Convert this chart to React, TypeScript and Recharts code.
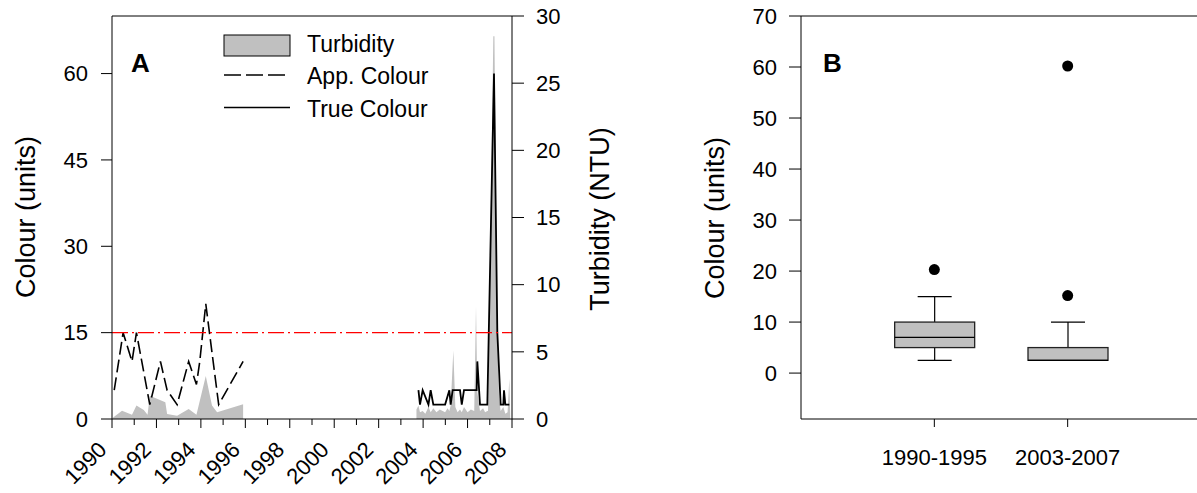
import React from "react";
import {
  ComposedChart,
  Area,
  Line,
  Bar,
  Scatter,
  XAxis,
  YAxis,
  ReferenceLine,
} from "recharts";

const FONT = "'Liberation Sans', Arial, sans-serif";
const GREY = "#c0c0c0";

// Panel A, 1990-1995 samples (apparent colour + turbidity)
const earlyYears = [
  1990.05, 1990.1, 1990.45, 1990.5, 1990.9, 1991.1, 1991.43, 1991.6, 1991.7,
  1992.18, 1992.4, 1992.48, 1992.93, 1993.45, 1993.8, 1993.95, 1994.22,
  1994.5, 1994.73, 1994.8, 1995.9,
];
const appColour = [
  null, 5, null, 15, 10, 15, null, null, 2.5, 10, null, 5, 2.5, 10, 6, 10, 20,
  null, null, 2.5, 10,
];
const earlyTurbidity = [
  0.12, null, 0.62, null, 0.32, 1.0, 0.67, 0.32, 1.74, null, 1.24, 0.37, 0.25,
  0.74, 0.32, null, 3.2, 1.0, 0.5, null, 1.1,
];

// Panel A, 2003-2007 samples (true colour + turbidity)
const lateYears = [
  2003.7, 2003.79, 2003.86, 2003.98, 2004.1, 2004.24, 2004.34, 2004.46, 2004.6,
  2004.75, 2004.99, 2005.1, 2005.18, 2005.24, 2005.33, 2005.36, 2005.45,
  2005.55, 2005.66, 2005.74, 2005.84, 2006.0, 2006.15, 2006.3, 2006.38,
  2006.41, 2006.44, 2006.56, 2006.7, 2006.79, 2006.89, 2006.92, 2007.16,
  2007.19, 2007.21, 2007.34, 2007.42, 2007.49, 2007.61, 2007.64, 2007.7,
  2007.8, 2007.88, 2007.92,
];
const trueColour = [
  null, 5, 2.5, 5, null, 2.5, 5, 2.5, null, null, 2.5, null, 5, 2.5, 5, null,
  null, null, 5, 2.5, 5, null, null, null, null, 5, 10, 2.5, null, 2.5, 2.5,
  null, null, 60, null, 15, null, 2.5, 2.5, 5, 2.5, null, 2.5, null,
];
const lateTurbidity = [
  0.7, 1.0, 0.5, 0.6, 0.4, 0.9, 0.5, 0.8, 0.5, 0.7, 0.5, 0.8, 0.6, 1.0, null,
  5.1, 0.9, 0.5, 0.7, 0.5, 0.9, 0.5, 0.7, 0.6, 8.4, null, 2.0, 0.6, 0.8, 0.5,
  0.6, 0.6, 28.5, null, 28.5, 6.4, 1.5, 0.6, 0.9, null, 0.4, 0.5, 3.0, 0.2,
];

const yearTicks = [
  1990, 1991, 1992, 1993, 1994, 1995, 1996, 1997, 1998, 1999, 2000, 2001, 2002,
  2003, 2004, 2005, 2006, 2007, 2008,
];
const colourTicks = [0, 15, 30, 45, 60];
const turbidityTicks = [0, 5, 10, 15, 20, 25, 30];
const guideline = 15;

// Panel B, box plot summaries
const periods = ["1990-1995", "2003-2007"];
const boxMin = [2.5, 2.5];
const boxQ1 = [5, 2.5];
const boxMedian = [7, 2.5];
const boxQ3 = [10, 5];
const boxMax = [15, 10];
const outlierPeriod = [1, 2, 2];
const outlierValue = [20.3, 15.2, 60.2];
const boxTicks = [0, 10, 20, 30, 40, 50, 60, 70];

const seriesRows = [
  ...earlyYears.map((year, i) => ({
    year,
    app: appColour[i],
    turbEarly: earlyTurbidity[i],
    tru: null,
    turbLate: null,
  })),
  ...lateYears.map((year, i) => ({
    year,
    app: null,
    turbEarly: null,
    tru: trueColour[i],
    turbLate: lateTurbidity[i],
  })),
];

const boxRows = periods.map((label, i) => ({
  pos: i + 1,
  label,
  min: boxMin[i],
  q1: boxQ1[i],
  median: boxMedian[i],
  q3: boxQ3[i],
  max: boxMax[i],
  range: [boxQ1[i], boxQ3[i]],
}));

const outlierRows = outlierValue.map((value, i) => ({
  pos: outlierPeriod[i],
  value,
}));

const tickText = { fill: "#000", fontSize: 22, fontFamily: FONT };
const black = { stroke: "#000" };

function YearTick({ x, y, payload }: any) {
  const labelled = payload.value % 2 === 0;
  return (
    <g>
      <line x1={x} x2={x} y1={y} y2={y + (labelled ? 9 : 6)} stroke="#000" />
      {labelled && (
        <text
          transform={`translate(${x - 4},${y + 32}) rotate(-45)`}
          textAnchor="end"
          fontSize={22}
          fontFamily={FONT}
          fill="#000"
        >
          {payload.value}
        </text>
      )}
    </g>
  );
}

function BoxShape(props: any) {
  const { x, y, width, height, payload } = props;
  const top = Math.min(y, y + height);
  const h = Math.abs(height);
  const px = h / (payload.q3 - payload.q1);
  const at = (v: number) => top + (payload.q3 - v) * px;
  const cx = x + width / 2;
  const cap = 17;
  return (
    <g>
      <line x1={cx} x2={cx} y1={at(payload.max)} y2={top} stroke="#000" strokeWidth={1.2} />
      <line x1={cx - cap} x2={cx + cap} y1={at(payload.max)} y2={at(payload.max)} stroke="#000" strokeWidth={1.2} />
      <line x1={cx} x2={cx} y1={top + h} y2={at(payload.min)} stroke="#000" strokeWidth={1.2} />
      <line x1={cx - cap} x2={cx + cap} y1={at(payload.min)} y2={at(payload.min)} stroke="#000" strokeWidth={1.2} />
      <rect x={x} y={top} width={width} height={h} fill={GREY} stroke="#222" strokeWidth={1.3} />
      <line x1={x} x2={x + width} y1={at(payload.median)} y2={at(payload.median)} stroke="#000" strokeWidth={1.3} />
    </g>
  );
}

function OutlierDot({ cx, cy }: any) {
  return <circle cx={cx} cy={cy} r={5.5} fill="#000" />;
}

export default function App() {
  return (
    <div
      style={{
        position: "absolute",
        left: 0,
        top: 0,
        width: 1197,
        height: 493,
        overflow: "hidden",
        background: "#fff",
      }}
    >
      <div style={{ position: "absolute", left: 0, top: 0 }}>
        <ComposedChart
          width={640}
          height={493}
          data={seriesRows}
          margin={{ top: 16, right: 28, bottom: 4, left: 32 }}
        >
          <XAxis
            type="number"
            dataKey="year"
            domain={[1990, 2008]}
            ticks={yearTicks}
            interval={0}
            tick={<YearTick />}
            tickLine={false}
            tickSize={0}
            tickMargin={0}
            axisLine={black}
            height={70}
            allowDataOverflow
          />
          <YAxis
            yAxisId="left"
            domain={[0, 70]}
            ticks={colourTicks}
            interval={0}
            width={80}
            tickSize={11}
            tickMargin={13}
            tick={tickText}
            tickLine={black}
            axisLine={black}
          />
          <YAxis
            yAxisId="right"
            orientation="right"
            domain={[0, 30]}
            ticks={turbidityTicks}
            interval={0}
            width={100}
            tickSize={12}
            tickMargin={12}
            tick={tickText}
            tickLine={black}
            axisLine={black}
          />
          <Area
            yAxisId="right"
            type="linear"
            dataKey="turbEarly"
            stroke="none"
            fill={GREY}
            fillOpacity={1}
            connectNulls
            dot={false}
            activeDot={false}
            isAnimationActive={false}
          />
          <Area
            yAxisId="right"
            type="linear"
            dataKey="turbLate"
            stroke="none"
            fill={GREY}
            fillOpacity={1}
            connectNulls
            dot={false}
            activeDot={false}
            isAnimationActive={false}
          />
          <Line
            yAxisId="left"
            type="linear"
            dataKey="app"
            stroke="#000"
            strokeWidth={1.6}
            strokeDasharray="13 5"
            connectNulls
            dot={false}
            activeDot={false}
            isAnimationActive={false}
          />
          <Line
            yAxisId="left"
            type="linear"
            dataKey="tru"
            stroke="#000"
            strokeWidth={1.8}
            connectNulls
            dot={false}
            activeDot={false}
            isAnimationActive={false}
          />
          <ReferenceLine
            yAxisId="left"
            y={guideline}
            stroke="#ff0000"
            strokeWidth={1.2}
            strokeDasharray="16 4 2 4"
          />
          <ReferenceLine yAxisId="left" y={70} stroke="#000" />
        </ComposedChart>
      </div>

      <div style={{ position: "absolute", left: 680, top: 0 }}>
        <ComposedChart
          width={540}
          height={493}
          data={boxRows}
          margin={{ top: 16, right: 19, bottom: 14, left: 41 }}
        >
          <XAxis
            type="number"
            dataKey="pos"
            domain={[0, 3]}
            ticks={[1, 2]}
            interval={0}
            tickFormatter={(v: number) => periods[v - 1]}
            tickSize={8}
            tickMargin={22}
            tick={tickText}
            tickLine={black}
            axisLine={black}
            height={60}
          />
          <YAxis
            domain={[-9, 70]}
            ticks={boxTicks}
            interval={0}
            width={80}
            tickSize={12}
            tickMargin={12}
            tick={tickText}
            tickLine={black}
            axisLine={black}
            allowDataOverflow
          />
          <Bar
            dataKey="range"
            barSize={80}
            shape={<BoxShape />}
            isAnimationActive={false}
          />
          <Scatter
            data={outlierRows}
            dataKey="value"
            shape={<OutlierDot />}
            isAnimationActive={false}
          />
          <ReferenceLine y={70} stroke="#000" />
        </ComposedChart>
      </div>

      <svg
        width={1197}
        height={493}
        style={{ position: "absolute", left: 0, top: 0, pointerEvents: "none" }}
        fontFamily={FONT}
      >
        <text x={131} y={72} fontSize={26} fontWeight="bold" fill="#000">A</text>
        <text x={823} y={72} fontSize={26} fontWeight="bold" fill="#000">B</text>

        <rect x={224} y={35} width={66} height={21} fill={GREY} stroke="#000" />
        <text x={307} y={52} fontSize={23} fill="#000">Turbidity</text>
        <line x1={224} x2={288} y1={75} y2={75} stroke="#000" strokeWidth={1.5} strokeDasharray="17 5" />
        <text x={307} y={84} fontSize={23} fill="#000">App. Colour</text>
        <line x1={224} x2={290} y1={107.5} y2={107.5} stroke="#000" strokeWidth={1.5} />
        <text x={307} y={116.5} fontSize={23} fill="#000">True Colour</text>

        <text transform="translate(35,217) rotate(-90)" textAnchor="middle" fontSize={27} fill="#000">
          Colour (units)
        </text>
        <text transform="translate(609,219) rotate(-90)" textAnchor="middle" fontSize={27} fill="#000">
          Turbidity (NTU)
        </text>
        <text transform="translate(724,218) rotate(-90)" textAnchor="middle" fontSize={27} fill="#000">
          Colour (units)
        </text>
      </svg>
    </div>
  );
}
